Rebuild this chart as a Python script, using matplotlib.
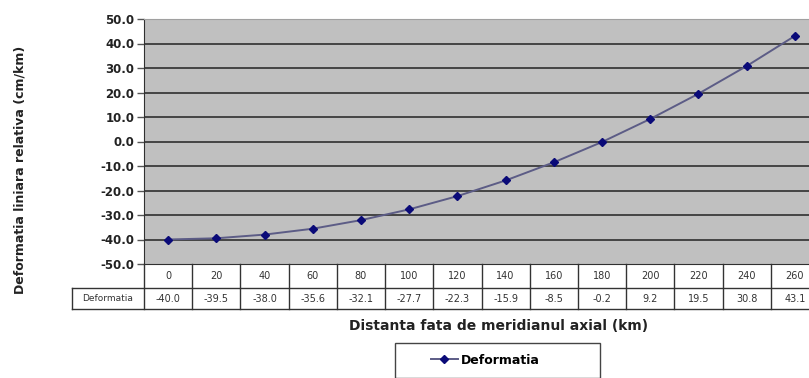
import matplotlib.pyplot as plt
from matplotlib.patches import Rectangle
from matplotlib.lines import Line2D
import numpy as np

# distance from the axial meridian (km) and relative linear deformation (cm/km)
distante = [0, 20, 40, 60, 80, 100, 120, 140, 160, 180, 200, 220, 240, 260]
deformatia = [-40.0, -39.5, -38.0, -35.6, -32.1, -27.7, -22.3, -15.9, -8.5, -0.2, 9.2, 19.5, 30.8, 43.1]
y_ticks = [-50, -40, -30, -20, -10, 0, 10, 20, 30, 40, 50]
serie = "Deformatia"

W, H = 809, 378
fig = plt.figure(figsize=(W / 100, H / 100), dpi=100)
fig.patch.set_facecolor("white")

# plot area (runs slightly past the right edge)
ax = fig.add_axes([144 / W, 1 - 264 / H, 675 / W, 245 / H])
ax.set_facecolor("#c0c0c0")

x = np.arange(len(distante))
ax.plot(x, deformatia, color="#5c5c86", lw=1.4, zorder=3)
ax.plot(x, deformatia, ls="none", marker="D", ms=4.5, color="#0a0a78", zorder=4)

ax.set_xlim(-0.5, len(distante) - 0.5)
ax.set_ylim(-50, 50)
ax.set_yticks(y_ticks)
ax.set_yticklabels(["%.1f" % v for v in y_ticks], fontsize=8.5, fontweight="bold", color="#222222")
ax.set_xticks([])
ax.tick_params(axis="y", direction="out", length=5, width=1, color="#555555", pad=2)

for v in y_ticks[1:-1]:
    ax.axhline(v, color="#444444", lw=1.4, zorder=1)

ax.spines["top"].set_color("#a0a0a0")
ax.spines["left"].set_color("#303030")
ax.spines["bottom"].set_color("#303030")
ax.spines["right"].set_visible(False)

# data table under the axis
tr = ax.get_xaxis_transform()
r1 = -24 / 245
r2 = -45 / 245
lc = "#333333"
for i in range(len(distante) + 1):
    ax.plot([i - 0.5, i - 0.5], [0, r2], color=lc, lw=1, transform=tr, clip_on=False)
ax.plot([-2.0, len(distante) - 0.5], [r1, r1], color=lc, lw=1, transform=tr, clip_on=False)
ax.plot([-2.0, len(distante) - 0.5], [r2, r2], color=lc, lw=1, transform=tr, clip_on=False)
ax.plot([-2.0, -2.0], [r1, r2], color=lc, lw=1, transform=tr, clip_on=False)

for i, (d, v) in enumerate(zip(distante, deformatia)):
    ax.text(i, r1 / 2, str(d), transform=tr, ha="center", va="center",
            fontsize=7, color="#333333", clip_on=False)
    ax.text(i, (r1 + r2) / 2, "%.1f" % v, transform=tr, ha="center", va="center",
            fontsize=7, color="#333333", clip_on=False)
ax.text(-1.25, (r1 + r2) / 2, serie, transform=tr, ha="center", va="center",
        fontsize=6.5, color="#333333", clip_on=False)

fig.text(499 / W, 1 - 326 / H, "Distanta fata de meridianul axial (km)",
         ha="center", va="center", fontsize=10, fontweight="bold", color="#222222")
fig.text(20 / W, 1 - 170 / H, "Deformatia liniara relativa (cm/km)", rotation=90,
         ha="center", va="center", fontsize=9, fontweight="bold", color="#222222")

# legend box
fig.patches.append(Rectangle((395 / W, 0), 205 / W, 1 - 343 / H,
                             transform=fig.transFigure, fill=False,
                             edgecolor="#444444", lw=1))
handle = Line2D([], [], color="#5c5c86", lw=1.4, marker="D", ms=4,
                markerfacecolor="#0a0a78", markeredgecolor="#0a0a78")
fig.legend([handle], [serie], loc="center", bbox_to_anchor=(485 / W, 1 - 360 / H),
           frameon=False, handlelength=2.2, handletextpad=0.2,
           prop={"weight": "bold", "size": 9})

fig.savefig("out.png", dpi=100)
